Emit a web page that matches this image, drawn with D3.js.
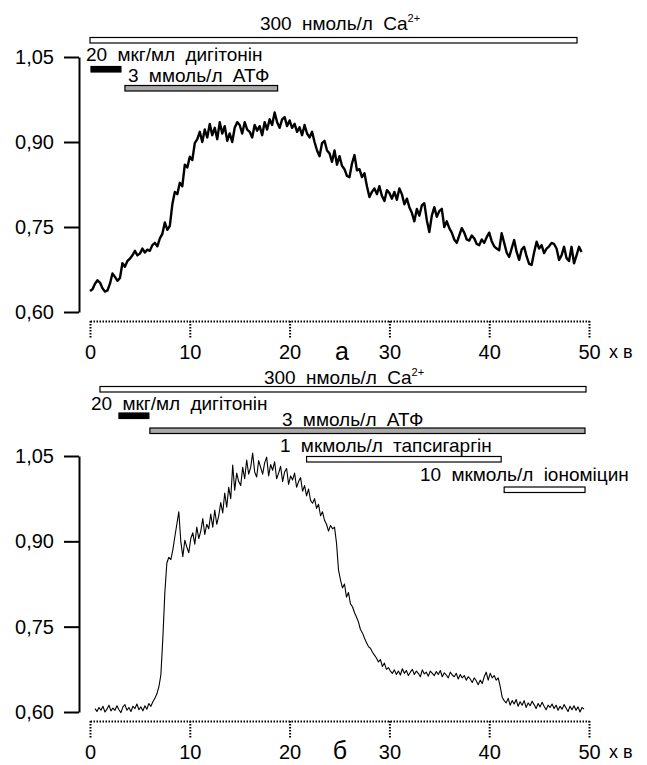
<!DOCTYPE html>
<html>
<head>
<meta charset="utf-8">
<script src="https://cdn.jsdelivr.net/npm/d3@7"></script>
<style>
  body { margin: 0; background: #fff; }
  text { font-family: "Liberation Sans", Arial, sans-serif; fill: #000; }
</style>
</head>
<body>
<div id="chart"></div>
<script>
// X axis (minutes) and Y axis ticks, shared by both panels
const xTicks = [0, 10, 20, 30, 40, 50];
const yTicks = [0.60, 0.75, 0.90, 1.05];
const yTickLabels = ["0,60", "0,75", "0,90", "1,05"];

// Panel "а": sampled every 0.25 min from 0 min
const traceAStart = 0, traceAStep = 0.25;
const traceA = [
  0.637, 0.640, 0.650, 0.656, 0.652, 0.642, 0.636, 0.638,
  0.650, 0.668, 0.662, 0.655, 0.660, 0.686, 0.680, 0.690,
  0.694, 0.700, 0.708, 0.700, 0.703, 0.712, 0.705, 0.710,
  0.708, 0.718, 0.722, 0.716, 0.730, 0.738, 0.758, 0.745,
  0.752, 0.790, 0.812, 0.808, 0.828, 0.822, 0.860, 0.855,
  0.874, 0.868, 0.898, 0.905, 0.918, 0.900, 0.922, 0.908,
  0.932, 0.912, 0.925, 0.905, 0.935, 0.915, 0.928, 0.902,
  0.915, 0.900, 0.925, 0.935, 0.930, 0.915, 0.935, 0.922,
  0.918, 0.908, 0.930, 0.920, 0.928, 0.912, 0.935, 0.922,
  0.940, 0.930, 0.952, 0.935, 0.925, 0.940, 0.944, 0.928,
  0.938, 0.925, 0.932, 0.918, 0.926, 0.912, 0.930, 0.915,
  0.908, 0.918, 0.900, 0.885, 0.875, 0.898, 0.902, 0.885,
  0.880, 0.865, 0.885, 0.860, 0.875, 0.858, 0.852, 0.840,
  0.838, 0.862, 0.877, 0.850, 0.852, 0.838, 0.845, 0.822,
  0.803, 0.812, 0.818, 0.808, 0.822, 0.805, 0.796, 0.815,
  0.810, 0.800, 0.812, 0.798, 0.818, 0.808, 0.790, 0.800,
  0.785, 0.775, 0.760, 0.782, 0.770, 0.788, 0.792, 0.762,
  0.741, 0.770, 0.785, 0.768, 0.778, 0.782, 0.750, 0.760,
  0.748, 0.740, 0.728, 0.722, 0.735, 0.748, 0.740, 0.728,
  0.726, 0.735, 0.730, 0.720, 0.718, 0.728, 0.722, 0.732,
  0.740, 0.725, 0.716, 0.712, 0.709, 0.739, 0.722, 0.705,
  0.697, 0.712, 0.727, 0.706, 0.692, 0.710, 0.715, 0.698,
  0.685, 0.683, 0.705, 0.724, 0.712, 0.718, 0.704, 0.712,
  0.716, 0.722, 0.720, 0.712, 0.692, 0.700, 0.715, 0.695,
  0.690, 0.715, 0.686, 0.700, 0.715, 0.706
];

// Panel "б": sampled every 0.2 min from 0.5 min
const traceBStart = 0.5, traceBStep = 0.2;
const traceB = [
  0.606, 0.601, 0.608, 0.603, 0.610, 0.600, 0.605, 0.612, 0.602, 0.607,
  0.603, 0.611, 0.604, 0.599, 0.609, 0.613, 0.603, 0.608, 0.601, 0.610,
  0.606, 0.614, 0.604, 0.609, 0.602, 0.611, 0.605, 0.615, 0.610, 0.618,
  0.624, 0.632, 0.644, 0.665, 0.730, 0.810, 0.862, 0.872, 0.868, 0.885,
  0.908, 0.930, 0.952, 0.900, 0.873, 0.902, 0.890, 0.880, 0.905, 0.915,
  0.895, 0.925, 0.905, 0.918, 0.940, 0.912, 0.930, 0.922, 0.948, 0.925,
  0.955, 0.930, 0.945, 0.968, 0.950, 0.985, 0.960, 0.995, 0.975, 1.034,
  0.990, 1.020, 1.005, 0.998, 1.030, 1.010, 1.043, 1.018, 1.030, 1.055,
  1.022, 1.013, 1.042, 1.030, 1.018, 1.038, 1.048, 1.015, 1.035, 1.025,
  1.040, 1.010, 1.020, 1.032, 1.005, 1.022, 1.028, 1.000, 1.015, 1.008,
  1.020, 0.995, 1.005, 1.012, 0.988, 0.998, 0.980, 0.992, 0.972, 0.967,
  0.975, 0.958, 0.965, 0.945, 0.952, 0.937, 0.930, 0.918, 0.928, 0.922,
  0.925, 0.897, 0.850, 0.832, 0.818, 0.825, 0.802, 0.810, 0.790, 0.785,
  0.775, 0.767, 0.758, 0.745, 0.739, 0.730, 0.722, 0.715, 0.712, 0.705,
  0.700, 0.695, 0.688, 0.692, 0.680, 0.686, 0.675, 0.678, 0.672, 0.668,
  0.674, 0.666, 0.672, 0.665, 0.676, 0.668, 0.673, 0.664, 0.670, 0.675,
  0.666, 0.672, 0.668, 0.662, 0.674, 0.667, 0.670, 0.663, 0.672, 0.668,
  0.664, 0.671, 0.666, 0.673, 0.662, 0.669, 0.665, 0.660, 0.670, 0.665,
  0.662, 0.668, 0.658, 0.666, 0.660, 0.664, 0.656, 0.662, 0.658, 0.652,
  0.660, 0.655, 0.648, 0.656, 0.650, 0.662, 0.670, 0.656, 0.668, 0.660,
  0.664, 0.656, 0.660, 0.645, 0.626, 0.620, 0.616, 0.624, 0.612, 0.620,
  0.614, 0.622, 0.610, 0.618, 0.612, 0.620, 0.608, 0.616, 0.611, 0.619,
  0.613, 0.606, 0.615, 0.609, 0.617, 0.610, 0.604, 0.612, 0.608, 0.614,
  0.606, 0.612, 0.603, 0.610, 0.605, 0.613, 0.607, 0.601, 0.610, 0.604,
  0.611, 0.603, 0.609, 0.600, 0.608, 0.605
];

// Treatment bars (minutes)
const barsAStart = [0, 0.1, 3.5];
const barsAEnd = [48.8, 3.1, 18.8];
const barsBStart = [1, 2.9, 6, 21.7, 41.5];
const barsBEnd = [49.7, 5.9, 49.6, 41.2, 49.6];

// Treatment names
const labelCa = "300 нмоль/л Ca";
const labelDig = "20 мкг/мл дигітонін";
const labelAtp = "3 ммоль/л АТФ";
const labelTg = "1 мкмоль/л тапсигаргін";
const labelIono = "10 мкмоль/л іономіцин";
const barLabels = { ca: labelCa, dig: labelDig, atp: labelAtp, tg: labelTg, iono: labelIono };
const barFill = { ca: "#fff", dig: "#000", atp: "#a9a9a9", tg: "#fff", iono: "#fff" };

const width = 647, height = 765;
const svg = d3.select("#chart").append("svg")
  .attr("width", width)
  .attr("height", height);

const x = d3.scaleLinear().domain([0, 50]).range([90, 589]);

function drawPanel(cfg) {
  const y = d3.scaleLinear().domain([0.60, 1.05]).range([cfg.bottom, cfg.top]);

  // treatment bars with their labels
  cfg.bars.forEach((b, i) => {
    const kind = b.kind;
    svg.append("rect")
      .attr("x", x(cfg.starts[i]))
      .attr("y", b.y)
      .attr("width", x(cfg.ends[i]) - x(cfg.starts[i]))
      .attr("height", 5.5)
      .attr("fill", barFill[kind])
      .attr("stroke", "#000")
      .attr("stroke-width", 1.2);

    const t = svg.append("text")
      .attr("x", b.lx)
      .attr("y", b.ly)
      .attr("text-anchor", b.anchor)
      .style("font-size", "19px")
      .style("word-spacing", "5px")
      .text(barLabels[kind]);
    if (kind === "ca") {
      t.append("tspan")
        .attr("dy", -8)
        .style("font-size", "11px")
        .text("2+");
    }
  });

  // y axis
  const yAxis = svg.append("g")
    .attr("transform", "translate(79,0)")
    .call(d3.axisLeft(y)
      .tickValues(yTicks)
      .tickFormat((d, i) => yTickLabels[i])
      .tickSize(15)
      .tickSizeOuter(0)
      .tickPadding(10));
  yAxis.select(".domain").attr("stroke-width", 2);
  yAxis.selectAll(".tick line").attr("stroke-width", 2);
  yAxis.selectAll("text")
    .style("font-size", "20px")
    .style("font-family", "'Liberation Sans', Arial, sans-serif");

  // dotted x axis
  const xAxis = svg.append("g")
    .attr("transform", `translate(0,${cfg.axisY})`)
    .call(d3.axisBottom(x)
      .tickValues(xTicks)
      .tickSize(18)
      .tickSizeOuter(0)
      .tickPadding(6));
  xAxis.select(".domain")
    .attr("stroke-width", 2)
    .attr("stroke-dasharray", "1.5,1.5");
  xAxis.selectAll(".tick line")
    .attr("stroke-width", 2)
    .attr("stroke-dasharray", "1.5,1.5");
  xAxis.selectAll("text")
    .style("font-size", "20px")
    .style("font-family", "'Liberation Sans', Arial, sans-serif");

  svg.append("text")
    .attr("x", 609)
    .attr("y", cfg.axisY + 24)
    .attr("dy", "0.71em")
    .style("font-size", "18px")
    .text("х в");

  // panel letter
  svg.append("text")
    .attr("x", cfg.letterX)
    .attr("y", cfg.letterY)
    .attr("text-anchor", "middle")
    .style("font-size", "25px")
    .text(cfg.letter);

  // fluorescence trace
  const line = d3.line()
    .x((d, i) => x(cfg.start + i * cfg.step))
    .y(d => y(d));
  svg.append("path")
    .datum(cfg.data)
    .attr("fill", "none")
    .attr("stroke", "#000")
    .attr("stroke-width", cfg.lineWidth)
    .attr("stroke-linejoin", "round")
    .attr("d", line);
}

drawPanel({
  top: 57, bottom: 312, axisY: 321,
  data: traceA, start: traceAStart, step: traceAStep, lineWidth: 2.4,
  starts: barsAStart, ends: barsAEnd,
  bars: [
    { kind: "ca", y: 37.5, lx: 340, ly: 30, anchor: "middle" },
    { kind: "dig", y: 66.5, lx: 86, ly: 61, anchor: "start" },
    { kind: "atp", y: 85.5, lx: 128, ly: 82, anchor: "start" }
  ],
  letter: "а", letterX: 342, letterY: 360
});

drawPanel({
  top: 456, bottom: 712, axisY: 721,
  data: traceB, start: traceBStart, step: traceBStep, lineWidth: 1.1,
  starts: barsBStart, ends: barsBEnd,
  bars: [
    { kind: "ca", y: 386.5, lx: 344, ly: 384, anchor: "middle" },
    { kind: "dig", y: 413, lx: 91, ly: 410, anchor: "start" },
    { kind: "atp", y: 428, lx: 282, ly: 426, anchor: "start" },
    { kind: "tg", y: 456.5, lx: 280, ly: 452, anchor: "start" },
    { kind: "iono", y: 487, lx: 420, ly: 481, anchor: "start" }
  ],
  letter: "б", letterX: 340, letterY: 759
});
</script>
</body>
</html>
